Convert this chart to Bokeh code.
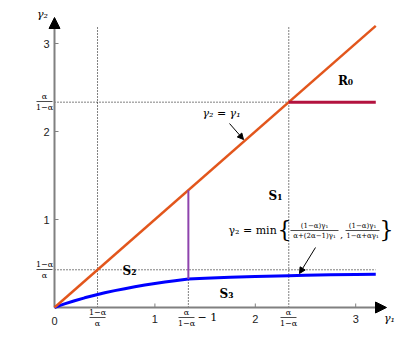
from bokeh.plotting import figure
from bokeh.models import Range1d, Arrow, NormalHead
from bokeh.core.properties import value
from bokeh.embed import file_html
from bokeh.resources import INLINE

# ---- data ----
alpha = 0.7
ratio = alpha / (1 - alpha)          # alpha/(1-alpha)  ~ 2.333
inv_ratio = (1 - alpha) / alpha      # (1-alpha)/alpha  ~ 0.4286
g_end = 3.2                          # right end of the drawn curves

x_ticks = [1, 2, 3]
y_ticks = [1, 2, 3]

diag_g1 = [0.0, 3.2]
diag_g2 = [0.0, 3.2]

curve_g1 = [0.0, 0.05, 0.1, 0.2, 0.3, 0.4, 0.5, 0.6, 0.7, 0.8, 0.9, 1.0, 1.1, 1.2,
            1.333, 1.5, 1.75, 2.0, 2.333, 2.5, 2.75, 3.0, 3.2]
curve_g2 = [0.0, 0.021, 0.041, 0.077, 0.110, 0.140, 0.167, 0.192, 0.214, 0.235, 0.255,
            0.273, 0.290, 0.305, 0.324, 0.333, 0.344, 0.353, 0.362, 0.366, 0.371, 0.375, 0.378]

r0_g1 = [ratio, 3.2]
r0_g2 = [ratio, ratio]

purple_g1 = [ratio - 1, ratio - 1]
purple_g2 = [0.324, ratio - 1]

# ---- pixel <-> data helpers for annotation placement ----
X0, Y0, SX, SY = 54.0, 307.0, 100.4, 88.0
def dx(X):
    return (X - X0) / SX
def dy(Y):
    return (Y0 - Y) / SY

W, H = 399, 330
p = figure(width=W, height=H, x_range=Range1d(dx(0), dx(W)),
           y_range=Range1d(dy(H), dy(0)), x_axis_type=None, y_axis_type=None,
           toolbar_location=None, output_backend="svg", min_border=0)
p.grid.visible = False
p.outline_line_color = None

SERIF = value("DejaVu Serif")
SANS = value("Liberation Sans")

def txt(X, Y, s, size=11, align="center", style="normal", baseline="middle",
        font=SERIF, color="black"):
    p.text(x=[dx(X)], y=[dy(Y)], text=[s], text_font=font, text_font_size=f"{size}px",
           text_align=align, text_baseline=baseline, text_font_style=style, text_color=color)

def frac(X, Y, num, den, size=8, width=16):
    txt(X, Y - 5, num, size)
    txt(X, Y + 5.5, den, size)
    p.segment(x0=[dx(X - width / 2)], y0=[dy(Y)], x1=[dx(X + width / 2)], y1=[dy(Y)],
              line_color="black", line_width=0.7)

# ---- dotted guide lines ----
dot = dict(line_color="black", line_width=1, line_dash="1 2")
p.segment(x0=[inv_ratio, ratio], y0=[0, 0], x1=[inv_ratio, ratio], y1=[3.2, 3.2], **dot)
p.segment(x0=[0], y0=[ratio], x1=[ratio], y1=[ratio], **dot)
p.segment(x0=[0], y0=[inv_ratio], x1=[g_end], y1=[inv_ratio], **dot)
p.segment(x0=[ratio - 1], y0=[0], x1=[ratio - 1], y1=[0.324], **dot)

# ---- axes ----
p.segment(x0=[0, 0], y0=[0, 0], x1=[dx(378), 0], y1=[0, dy(24)], line_color="#808080", line_width=2)
p.add_layout(Arrow(x_start=dx(370), y_start=0, x_end=dx(386), y_end=0, line_alpha=0,
                   end=NormalHead(size=11, fill_color="black", line_color="black")))
p.add_layout(Arrow(x_start=0, y_start=dy(32), x_end=0, y_end=dy(17), line_alpha=0,
                   end=NormalHead(size=11, fill_color="black", line_color="black")))
p.segment(x0=x_ticks, y0=[0] * 3, x1=x_ticks, y1=[dy(Y0 - 4)] * 3, line_color="#808080", line_width=1)
p.segment(x0=[0] * 3, y0=y_ticks, x1=[dx(X0 + 4)] * 3, y1=y_ticks, line_color="#808080", line_width=1)

# ---- curves ----
p.line(curve_g1, curve_g2, line_color="#0000ff", line_width=3)
p.line(diag_g1, diag_g2, line_color="#e2561c", line_width=2.5)
p.line(r0_g1, r0_g2, line_color="#b3123f", line_width=3)
p.line(purple_g1, purple_g2, line_color="#8e44ad", line_width=2)

# ---- tick labels ----
txt(54, 320, "0", 11, font=SANS, color="#222222")
for t in x_ticks:
    txt(X0 + SX * t, 318, str(t), 11, font=SANS, color="#222222")
for t in y_ticks:
    txt(46, Y0 - SY * t, str(t), 11, font=SANS, color="#222222")
frac(97, 317, "1−α", "α", 8)
frac(186, 317, "α", "1−α", 8)
txt(197, 317, "− 1", 11, align="left")
frac(288, 317, "α", "1−α", 8)
frac(44, 101, "α", "1−α", 8)
frac(44, 269, "1−α", "α", 8)

# axis names
txt(42, 14, "γ₂", 11, style="italic")
txt(389, 318, "γ₁", 11, style="italic")

# ---- region labels ----
txt(345, 80, "R₀", 12, style="bold")
txt(275, 195, "S₁", 12, style="bold")
txt(129, 270, "S₂", 12, style="bold")
txt(226, 293, "S₃", 12, style="bold")

# ---- equations ----
txt(221, 113, "γ₂ = γ₁", 11, style="italic")
p.add_layout(Arrow(x_start=dx(229), y_start=dy(123), x_end=dx(243), y_end=dy(139), line_width=1,
                   end=NormalHead(size=6, fill_color="black", line_color="black")))

txt(228, 230, "γ₂ = min", 11, align="left")
txt(284, 229, "{", 22)
frac(314, 230, "(1−α)γ₁", "α+(2α−1)γ₁", 7, width=48)
txt(341, 234, ",", 10)
frac(362, 230, "(1−α)γ₁", "1−α+αγ₁", 7, width=34)
txt(386, 229, "}", 22)
p.add_layout(Arrow(x_start=dx(315), y_start=dy(247), x_end=dx(299), y_end=dy(273), line_width=1,
                   end=NormalHead(size=6, fill_color="black", line_color="black")))

open("out.html", "w").write(file_html(p, INLINE))
